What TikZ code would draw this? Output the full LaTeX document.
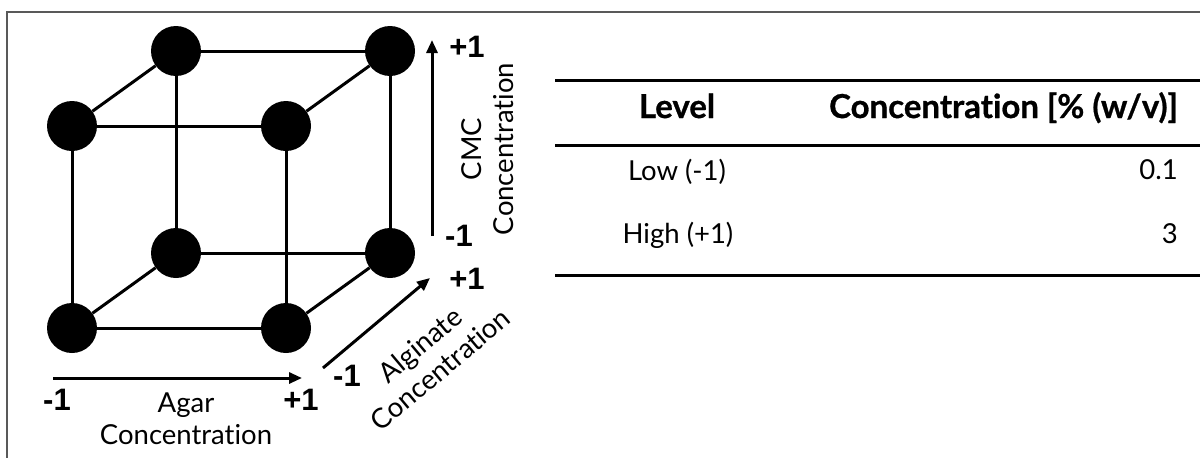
\documentclass[tikz,border=0pt]{standalone}
\usepackage{fontspec}
\setmainfont{Lato}[Ligatures=NoCommon]
\newfontfamily\headfont{Lato}[Ligatures=NoCommon,BoldFeatures={FakeBold=0.8}]
\newfontfamily\axisfont{Liberation Sans}
\usetikzlibrary{arrows.meta}
\begin{document}
\begin{tikzpicture}[x=1pt,y=-1pt,
  vertex/.style={circle,fill=black,inner sep=0pt,minimum size=50pt},
  cubeedge/.style={line width=3pt},
  axisarrow/.style={line width=3pt,-{Triangle[length=13pt,width=11pt]}},
  ticklabel/.style={font=\axisfont\bfseries\fontsize{31}{34}\selectfont,anchor=base,inner sep=0pt},
  axislabel/.style={font=\fontsize{27.5}{32}\selectfont,align=center,inner sep=0pt},
  tablerule/.style={line width=3pt},
  headcell/.style={font=\headfont\bfseries\fontsize{33}{38}\selectfont,anchor=base,inner sep=0pt},
  cell/.style={font=\fontsize{27.5}{32}\selectfont,anchor=base,inner sep=0pt},
  borderline/.style={line width=1.5pt,draw=black!65}]
\useasboundingbox (0,0) rectangle (1200,458);

% outer frame (top and left sides)
\coordinate (frTR) at (1200,12);
\coordinate (frTL) at (7,12);
\coordinate (frBL) at (7,458);
\draw[borderline] (frTR) -- (frTL) -- (frBL);

% cube vertices
\node[vertex] (ftl) at (72,126) {};
\node[vertex] (ftr) at (286,126) {};
\node[vertex] (fbl) at (72,328) {};
\node[vertex] (fbr) at (286,328) {};
\node[vertex] (btl) at (176,51) {};
\node[vertex] (btr) at (390,51) {};
\node[vertex] (bbl) at (176,253) {};
\node[vertex] (bbr) at (390,253) {};

% cube edges
\draw[cubeedge] (ftl) -- (ftr) -- (fbr) -- (fbl) -- (ftl);
\draw[cubeedge] (btl) -- (btr) -- (bbr) -- (bbl) -- (btl);
\draw[cubeedge] (ftl) -- (btl);
\draw[cubeedge] (ftr) -- (btr);
\draw[cubeedge] (fbl) -- (bbl);
\draw[cubeedge] (fbr) -- (bbr);

% factor axes
\coordinate (agarS) at (53,378);
\coordinate (agarE) at (302,378);
\draw[axisarrow] (agarS) -- (agarE);
\coordinate (cmcS) at (432,236);
\coordinate (cmcE) at (432,40);
\draw[axisarrow] (cmcS) -- (cmcE);
\coordinate (algS) at (323,368);
\coordinate (algE) at (430,278);
\draw[axisarrow] (algS) -- (algE);

% coded levels
\node[ticklabel] (agarLo) at (57,410) {-1};
\node[ticklabel] (agarHi) at (301,410) {+1};
\node[ticklabel] (cmcHi) at (467,57) {+1};
\node[ticklabel] (cmcLo) at (459,246) {-1};
\node[ticklabel] (algHi) at (467,289) {+1};
\node[ticklabel] (algLo) at (347,386) {-1};

% axis names
\node[axislabel] (agarLbl) at (186,419) {Agar\\Concentration};
\node[axislabel,rotate=90] (cmcLbl) at (488,149) {CMC\\Concentration};
\node[axislabel,rotate=40] (algLbl) at (430,357) {Alginate\\Concentration};

% level table
\coordinate (r1a) at (555,80);  \coordinate (r1b) at (1200,80);
\coordinate (r2a) at (555,145); \coordinate (r2b) at (1200,145);
\coordinate (r3a) at (555,275); \coordinate (r3b) at (1200,275);
\draw[tablerule] (r1a) -- (r1b);
\draw[tablerule] (r2a) -- (r2b);
\draw[tablerule] (r3a) -- (r3b);

\node[headcell] (hLevel) at (677,118) {Level};
\node[headcell,anchor=base east] (hConc) at (1178,118) {Concentration [\% (w/v)]};
\node[cell] (lowLbl) at (677,180) {Low (-1)};
\node[cell,anchor=base east] (lowVal) at (1178,179) {0.1};
\node[cell] (highLbl) at (678,243) {High (+1)};
\node[cell,anchor=base east] (highVal) at (1178,243) {3};
\end{tikzpicture}
\end{document}
